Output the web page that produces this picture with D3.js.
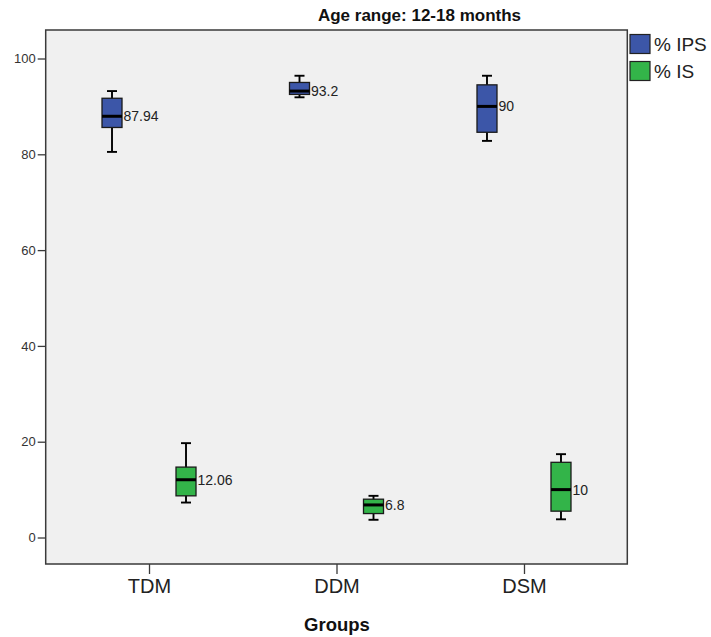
<!DOCTYPE html>
<html>
<head>
<meta charset="utf-8">
<script src="https://cdn.jsdelivr.net/npm/d3@7"></script>
<style>
  html, body { margin: 0; padding: 0; background: #ffffff; }
  svg { display: block; font-family: "Liberation Sans", Arial, sans-serif; }
</style>
</head>
<body>
<svg id="chart" width="711" height="637"></svg>
<script>
// Groups on the x axis and the two measured series
const groups = ["TDM", "DDM", "DSM"];
const series = ["% IPS", "% IS"];
const seriesColors = ["#3c56a8", "#33b449"];

// Five-number summaries per group: [min, Q1, median, Q3, max]
const ipsStats = [
  [80.5, 85.6, 87.94, 91.7, 93.2],
  [91.9, 92.5, 93.2, 95.0, 96.4],
  [82.8, 84.6, 90, 94.5, 96.4]
];
const isStats = [
  [7.3, 8.7, 12.06, 14.7, 19.7],
  [3.7, 5.0, 6.8, 8.0, 8.7],
  [3.8, 5.5, 10, 15.7, 17.4]
];
// Median labels shown beside each box
const ipsLabels = ["87.94", "93.2", "90"];
const isLabels = ["12.06", "6.8", "10"];

const yTicks = [0, 20, 40, 60, 80, 100];
const title = "Age range: 12-18 months";
const xTitle = "Groups";

const svg = d3.select("#chart");
const plot = { left: 45.7, right: 627.3, top: 30, bottom: 564 };

const x = d3.scalePoint().domain(groups).range([plot.left, plot.right]).padding(0.551);
const inner = d3.scalePoint().domain(series).range([-37, 37]);
const y = d3.scaleLinear().domain([-5.53, 105.95]).range([plot.bottom, plot.top]);

// Plot background
svg.append("rect")
  .attr("x", plot.left).attr("y", plot.top)
  .attr("width", plot.right - plot.left).attr("height", plot.bottom - plot.top)
  .attr("fill", "#f0f0f0");

// Boxes
const boxW = 20, capW = 10;
const rows = [];
groups.forEach((g, i) => {
  rows.push({ g, s: series[0], c: seriesColors[0], st: ipsStats[i], lab: ipsLabels[i] });
  rows.push({ g, s: series[1], c: seriesColors[1], st: isStats[i], lab: isLabels[i] });
});

const boxes = svg.append("g").selectAll("g").data(rows).join("g")
  .attr("transform", d => `translate(${x(d.g) + inner(d.s)},0)`);

boxes.append("line")
  .attr("x1", 0).attr("x2", 0)
  .attr("y1", d => y(d.st[0])).attr("y2", d => y(d.st[4]))
  .attr("stroke", "#000").attr("stroke-width", 1.9);
boxes.selectAll("line.cap").data(d => [d.st[0], d.st[4]]).join("line")
  .attr("class", "cap")
  .attr("x1", -capW / 2).attr("x2", capW / 2)
  .attr("y1", v => y(v)).attr("y2", v => y(v))
  .attr("stroke", "#000").attr("stroke-width", 1.9);
boxes.append("rect")
  .attr("x", -boxW / 2).attr("width", boxW)
  .attr("y", d => y(d.st[3])).attr("height", d => y(d.st[1]) - y(d.st[3]))
  .attr("fill", d => d.c).attr("stroke", "#1a1a1a").attr("stroke-width", 1.3);
boxes.append("line")
  .attr("x1", -boxW / 2).attr("x2", boxW / 2)
  .attr("y1", d => y(d.st[2])).attr("y2", d => y(d.st[2]))
  .attr("stroke", "#000").attr("stroke-width", 3);
boxes.append("text")
  .attr("x", boxW / 2 + 1.5).attr("y", d => y(d.st[2]))
  .attr("dy", "0.36em")
  .attr("font-size", 14).attr("fill", "#222")
  .text(d => d.lab);

// Frame
svg.append("rect")
  .attr("x", plot.left).attr("y", plot.top)
  .attr("width", plot.right - plot.left).attr("height", plot.bottom - plot.top)
  .attr("fill", "none").attr("stroke", "#3a3a3a").attr("stroke-width", 1.5);

// Y axis
const yAxis = svg.append("g")
  .attr("transform", `translate(${plot.left},0)`)
  .call(d3.axisLeft(y).tickValues(yTicks).tickSize(8).tickPadding(2).tickFormat(d3.format("d")));
yAxis.select(".domain").remove();
yAxis.selectAll(".tick line").attr("stroke", "#3a3a3a").attr("stroke-width", 1.3);
yAxis.selectAll(".tick text").attr("font-size", 13).attr("fill", "#333")
  .attr("font-family", "'Liberation Sans', Arial, sans-serif");

// X axis
const xAxis = svg.append("g")
  .attr("transform", `translate(0,${plot.bottom})`)
  .call(d3.axisBottom(x).tickSize(10).tickPadding(5));
xAxis.select(".domain").remove();
xAxis.selectAll(".tick line").attr("stroke", "#3a3a3a").attr("stroke-width", 1.3);
xAxis.selectAll(".tick text").attr("font-size", 20).attr("fill", "#222")
  .attr("font-family", "'Liberation Sans', Arial, sans-serif");

// Titles
svg.append("text")
  .attr("x", 419.5).attr("y", 21)
  .attr("text-anchor", "middle")
  .attr("font-size", 17).attr("font-weight", "bold").attr("fill", "#111")
  .text(title);
svg.append("text")
  .attr("x", 337).attr("y", 631)
  .attr("text-anchor", "middle")
  .attr("font-size", 18.5).attr("font-weight", "bold").attr("fill", "#111")
  .text(xTitle);

// Legend
const legend = svg.append("g").selectAll("g").data(series).join("g")
  .attr("transform", (d, i) => `translate(630,${34.5 + i * 27})`);
legend.append("rect")
  .attr("width", 20).attr("height", 19)
  .attr("fill", (d, i) => seriesColors[i])
  .attr("stroke", "#222").attr("stroke-width", 1.2);
legend.append("text")
  .attr("x", 24).attr("y", 9.5).attr("dy", "0.36em")
  .attr("font-size", 19).attr("fill", "#222")
  .text(d => d);
</script>
</body>
</html>
